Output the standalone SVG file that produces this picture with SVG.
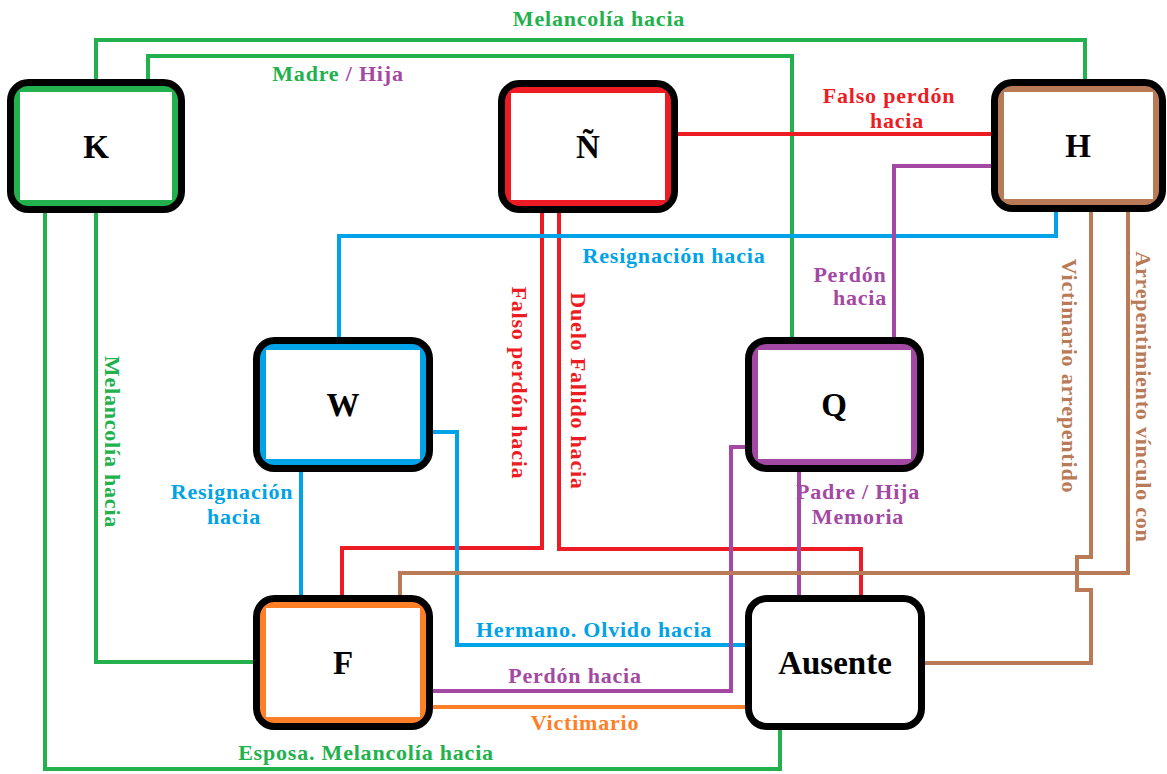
<svg xmlns="http://www.w3.org/2000/svg" width="1167" height="774" viewBox="0 0 1167 774">
<style>
.c{fill:none;stroke-width:4;stroke-linejoin:miter}
.g{stroke:#22B14C}.r{stroke:#ED1C24}.b{stroke:#00A2E8}.p{stroke:#A349A4}.o{stroke:#FF7F27}.br{stroke:#B97A57}
.frame{fill:none;stroke:#000;stroke-width:7}
.inner{fill:#fff}
.nt{font-family:"Liberation Serif","Times New Roman",serif;font-weight:bold;font-size:33px;text-anchor:middle;fill:#000}
.lb{font-family:"Liberation Serif","Times New Roman",serif;font-weight:bold;font-size:22px;letter-spacing:0.8px;text-anchor:middle}
.tg{fill:#22B14C}.tr{fill:#ED1C24}.tb{fill:#00A2E8}.tp{fill:#A349A4}.to{fill:#FF7F27}.tbr{fill:#B97A57}
</style>
<rect width="1167" height="774" fill="#fff"/>
<g id="connectors">
<path class="c g" d="M96,79 V40 H1085 V79"/>
<path class="c g" d="M148,79 V56 H792 V337"/>
<path class="c g" d="M96,213 V662 H253"/>
<path class="c g" d="M45,213 V769 H780 V730"/>
<path class="c r" d="M678,134 H991"/>
<path class="c r" d="M542,213 V548 H342 V595"/>
<path class="c r" d="M559,213 V549 H861 V595"/>
<path class="c b" d="M1056,212 V236 H339 V337"/>
<path class="c b" d="M301,472 V595"/>
<path class="c b" d="M433,432 H457 V645 H745"/>
<path class="c p" d="M991,166 H894 V337"/>
<path class="c p" d="M799,472 V595"/>
<path class="c p" d="M433,691 H731 V447 H745"/>
<path class="c o" d="M433,707 H745"/>
<path class="c br" d="M1128,212 V573 H400 V595"/>
<path class="c br" d="M1091,212 V557 H1077 V590 H1091 V663 H925"/>
</g>
<g id="labels">
<text class="lb tg" x="599" y="26">Melancolía hacia</text>
<text class="lb" x="338" y="81"><tspan class="tg">Madre </tspan><tspan class="tp">/ Hija</tspan></text>
<text class="lb tr" x="889" y="103">Falso perdón</text>
<text class="lb tr" x="897" y="128">hacia</text>
<text class="lb tb" x="674" y="263">Resignación hacia</text>
<text class="lb tp" x="850" y="282">Perdón</text>
<text class="lb tp" x="860" y="305">hacia</text>
<text class="lb tb" x="232" y="499">Resignación</text>
<text class="lb tb" x="234" y="524">hacia</text>
<text class="lb tp" x="858" y="499">Padre / Hija</text>
<text class="lb tp" x="858" y="524">Memoria</text>
<text class="lb tb" x="594" y="637">Hermano. Olvido hacia</text>
<text class="lb tp" x="575" y="683">Perdón hacia</text>
<text class="lb to" x="585" y="730">Victimario</text>
<text class="lb tg" x="366" y="760">Esposa. Melancolía hacia</text>
<text class="lb tg" transform="translate(112,442) rotate(90)" x="0" y="7">Melancolía hacia</text>
<text class="lb tr" transform="translate(519,383) rotate(90)" x="0" y="7">Falso perdón hacia</text>
<text class="lb tr" transform="translate(578,391) rotate(90)" x="0" y="7">Duelo Fallido hacia</text>
<text class="lb tbr" transform="translate(1069,376) rotate(90)" x="0" y="7">Victimario arrepentido</text>
<text class="lb tbr" transform="translate(1143,397) rotate(90)" x="0" y="7">Arrepentimiento vínculo con</text>
</g>
<g id="node-K">
<rect x="10.5" y="82.5" width="171" height="127" rx="18" fill="#22B14C"/>
<rect class="inner" x="20" y="92" width="152" height="108"/>
<rect class="frame" x="10.5" y="82.5" width="171" height="127" rx="18"/>
<text class="nt" x="96" y="158">K</text>
</g>
<g id="node-N">
<rect x="501.5" y="83.5" width="173" height="126" rx="18" fill="#ED1C24"/>
<rect class="inner" x="511" y="93" width="154" height="107"/>
<rect class="frame" x="501.5" y="83.5" width="173" height="126" rx="18"/>
<text class="nt" x="588" y="158">Ñ</text>
</g>
<g id="node-H">
<rect x="994.5" y="82.5" width="168" height="126" rx="18" fill="#B97A57"/>
<rect class="inner" x="1004" y="92" width="149" height="107"/>
<rect class="frame" x="994.5" y="82.5" width="168" height="126" rx="18"/>
<text class="nt" x="1078" y="157">H</text>
</g>
<g id="node-W">
<rect x="256.5" y="340.5" width="173" height="128" rx="18" fill="#00A2E8"/>
<rect class="inner" x="266" y="350" width="154" height="109"/>
<rect class="frame" x="256.5" y="340.5" width="173" height="128" rx="18"/>
<text class="nt" x="343" y="416">W</text>
</g>
<g id="node-Q">
<rect x="748.5" y="340.5" width="172" height="128" rx="18" fill="#A349A4"/>
<rect class="inner" x="758" y="350" width="153" height="109"/>
<rect class="frame" x="748.5" y="340.5" width="172" height="128" rx="18"/>
<text class="nt" x="834" y="416">Q</text>
</g>
<g id="node-F">
<rect x="256.5" y="598.5" width="173" height="128" rx="18" fill="#FF7F27"/>
<rect class="inner" x="266" y="608" width="154" height="109"/>
<rect class="frame" x="256.5" y="598.5" width="173" height="128" rx="18"/>
<text class="nt" x="343" y="674">F</text>
</g>
<g id="node-Ausente">
<rect class="frame" x="748.5" y="598.5" width="173" height="128" rx="18" fill="#fff"/>
<text class="nt" x="835" y="674">Ausente</text>
</g>
</svg>
